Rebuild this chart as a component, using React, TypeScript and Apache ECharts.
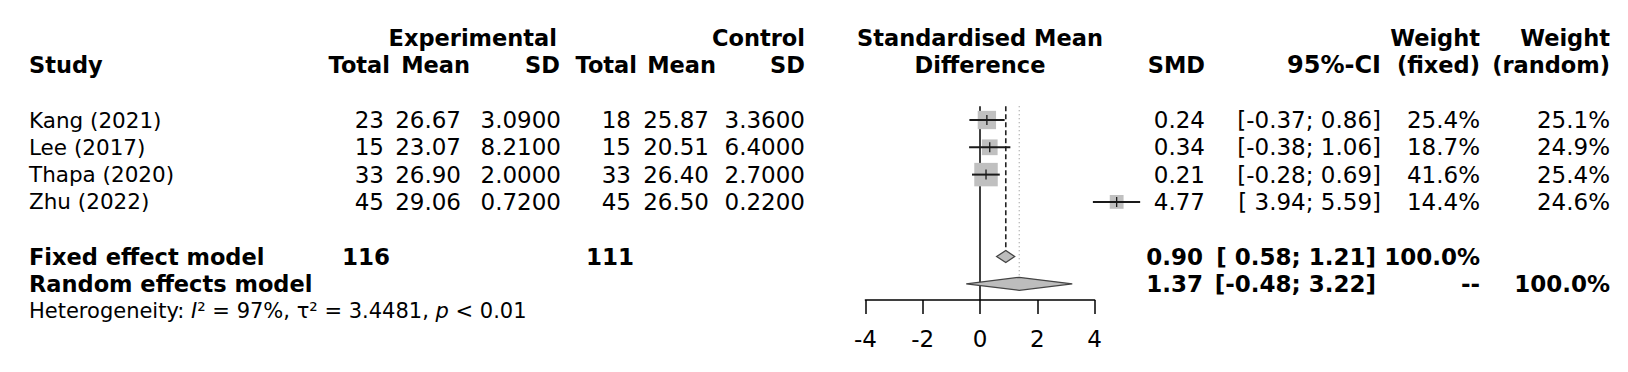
import React, { useEffect, useRef } from "react";
import * as echarts from "echarts";

// ---------- data ----------
const studies = ["Kang (2021)", "Lee (2017)", "Thapa (2020)", "Zhu (2022)"];
const expTotal = [23, 15, 33, 45];
const expMean = ["26.67", "23.07", "26.90", "29.06"];
const expSD = ["3.0900", "8.2100", "2.0000", "0.7200"];
const ctrlTotal = [18, 15, 33, 45];
const ctrlMean = ["25.87", "20.51", "26.40", "26.50"];
const ctrlSD = ["3.3600", "6.4000", "2.7000", "0.2200"];
const smd = [0.24, 0.34, 0.21, 4.77];
const ciLow = [-0.37, -0.38, -0.28, 3.94];
const ciHigh = [0.86, 1.06, 0.69, 5.59];
const weightFixed = [25.4, 18.7, 41.6, 14.4];
const weightRandom = [25.1, 24.9, 25.4, 24.6];

const modelNames = ["Fixed effect model", "Random effects model"];
const modelSMD = [0.9, 1.37];
const modelLow = [0.58, -0.48];
const modelHigh = [1.21, 3.22];
const modelWeightFixed = ["100.0%", "--"];
const modelWeightRandom = ["", "100.0%"];
const totalExp = 116;
const totalCtrl = 111;

const hetI2 = "97%";
const hetTau2 = "3.4481";
const hetP = "< 0.01";

const xMin = -4;
const xMax = 4;
const xInterval = 2;

// ---------- layout constants ----------
const W = 1628;
const H = 372;
const FONT = "DejaVu Sans";
const FS_NAME = 21.5;
const FS_NUM = 23;
const FS_BOLD = 22.5;
const FS_BOLD_NUM = 23;
const FS_HET = 21;
const zeroPx = 980;
const unitPx = 28.65;
const rowTop = 120; // pixel y of row 0
const rowStep = 27.3;
const gridTop = 100;
const gridH = 200;
const yMinV = -(rowTop - gridTop) / rowStep;
const yMaxV = yMinV + gridH / rowStep;
const squareScale = 3.64;

const fmt2 = (v: number) => v.toFixed(2);
const fmtCI = (lo: number, hi: number) =>
  "[" + (lo < 0 ? "" : " ") + lo.toFixed(2) + "; " + hi.toFixed(2) + "]";

type TItem = {
  row: number;
  x: number;
  text: string;
  align: "left" | "right" | "center";
  bold?: boolean;
  size: number;
  rich?: any;
};

function buildTextItems(): TItem[] {
  const items: TItem[] = [];
  const hb = (row: number, x: number, text: string, align: TItem["align"], size = FS_BOLD) =>
    items.push({ row, x, text, align, bold: true, size });
  // header row 1
  hb(-3, 557, "Experimental", "right");
  hb(-3, 805, "Control", "right");
  hb(-3, zeroPx, "Standardised Mean", "center");
  hb(-3, 1480, "Weight", "right");
  hb(-3, 1610, "Weight", "right");
  // header row 2
  hb(-2, 29, "Study", "left");
  hb(-2, 390, "Total", "right");
  hb(-2, 470, "Mean", "right");
  hb(-2, 560, "SD", "right");
  hb(-2, 637, "Total", "right");
  hb(-2, 716, "Mean", "right");
  hb(-2, 805, "SD", "right");
  hb(-2, zeroPx, "Difference", "center");
  hb(-2, 1205, "SMD", "right");
  hb(-2, 1381, "95%-CI", "right", 24);
  hb(-2, 1480, "(fixed)", "right");
  hb(-2, 1610, "(random)", "right");
  // studies
  studies.forEach((s, i) => {
    const r = (x: number, text: string) => items.push({ row: i, x, text, align: "right", size: FS_NUM });
    items.push({ row: i, x: 29, text: s, align: "left", size: FS_NAME });
    r(384, String(expTotal[i]));
    r(461, expMean[i]);
    r(561, expSD[i]);
    r(631, String(ctrlTotal[i]));
    r(709, ctrlMean[i]);
    r(805, ctrlSD[i]);
    r(1205, fmt2(smd[i]));
    r(1381, fmtCI(ciLow[i], ciHigh[i]));
    r(1480, weightFixed[i].toFixed(1) + "%");
    r(1610, weightRandom[i].toFixed(1) + "%");
  });
  // models
  modelNames.forEach((m, k) => {
    const row = 5 + k;
    hb(row, 29, m, "left");
    hb(row, 1203, fmt2(modelSMD[k]), "right", FS_BOLD_NUM);
    hb(row, 1376, fmtCI(modelLow[k], modelHigh[k]), "right", FS_BOLD_NUM);
    if (modelWeightFixed[k]) hb(row, 1480, modelWeightFixed[k], "right", FS_BOLD_NUM);
    if (modelWeightRandom[k]) hb(row, 1610, modelWeightRandom[k], "right", FS_BOLD_NUM);
  });
  hb(5, 390, String(totalExp), "right", FS_BOLD_NUM);
  hb(5, 634, String(totalCtrl), "right", FS_BOLD_NUM);
  // heterogeneity
  items.push({
    row: 7,
    x: 29,
    align: "left",
    size: FS_HET,
    text:
      "{a|Heterogeneity: }{i|I}{a|\u00b2 = " +
      hetI2 +
      ", \u03c4\u00b2 = " +
      hetTau2 +
      ", }{i|p}{a| " +
      hetP +
      "}",
    rich: {
      a: { fontSize: FS_HET, fontFamily: FONT, fill: "#000" },
      i: { fontSize: FS_HET, fontFamily: FONT, fontStyle: "italic", fill: "#000" },
    },
  });
  return items;
}

export default function App() {
  const ref = useRef<HTMLDivElement>(null);

  useEffect(() => {
    document.body.style.margin = "0";
    if (!ref.current) return;
    const chart = echarts.init(ref.current, undefined, { renderer: "svg" });
    const textItems = buildTextItems();

    const gridLeft = zeroPx + xMin * unitPx;
    const gridW = (xMax - xMin) * unitPx;

    const option: any = {
      animation: false,
      backgroundColor: "#fff",
      grid: { left: gridLeft, width: gridW, top: gridTop, height: gridH, containLabel: false },
      xAxis: {
        type: "value",
        min: xMin,
        max: xMax,
        interval: xInterval,
        position: "bottom",
        axisLine: { show: true, onZero: false, lineStyle: { color: "#000", width: 1.5 } },
        axisTick: { show: true, length: 14, lineStyle: { color: "#000", width: 1.5 } },
        axisLabel: { fontSize: 23, color: "#000", fontFamily: FONT, margin: 27 },
        splitLine: { show: false },
      },
      yAxis: { type: "value", min: yMinV, max: yMaxV, inverse: true, show: false },
      series: [
        // reference lines
        {
          type: "custom",
          silent: true,
          clip: false,
          data: [
            [0, -0.5, 0],
            [modelSMD[0], -0.5, 5],
            [modelSMD[1], -0.5, 6],
          ],
          encode: { x: 0, y: 1 },
          renderItem: (params: any, api: any) => {
            const i = params.dataIndex;
            const x = api.value(0);
            const top = api.coord([x, api.value(1)]);
            let y2: number;
            let style: any;
            if (i === 0) {
              y2 = params.coordSys.y + params.coordSys.height;
              style = { stroke: "#000", lineWidth: 1.5 };
            } else if (i === 1) {
              y2 = api.coord([x, api.value(2)])[1] - 6;
              style = { stroke: "#222", lineWidth: 1.6, lineDash: [5, 3] };
            } else {
              y2 = api.coord([x, api.value(2)])[1] - 6.5;
              style = { stroke: "#9a9a9a", lineWidth: 1.2, lineDash: [1, 3] };
            }
            return { type: "line", shape: { x1: top[0], y1: top[1], x2: top[0], y2 }, style };
          },
        },
        // study squares and CIs
        {
          type: "custom",
          silent: true,
          clip: false,
          data: smd.map((v, i) => [v, i, ciLow[i], ciHigh[i], weightFixed[i]]),
          encode: { x: 0, y: 1 },
          renderItem: (params: any, api: any) => {
            const est = api.value(0);
            const row = api.value(1);
            const c = api.coord([est, row]);
            const l = api.coord([api.value(2), row]);
            const h = api.coord([api.value(3), row]);
            const s = squareScale * Math.sqrt(api.value(4));
            return {
              type: "group",
              children: [
                { type: "rect", shape: { x: c[0] - s / 2, y: c[1] - s / 2, width: s, height: s }, style: { fill: "#c0c0c0" } },
                { type: "line", shape: { x1: l[0], y1: c[1], x2: h[0], y2: c[1] }, style: { stroke: "#1a1a1a", lineWidth: 2 } },
                { type: "line", shape: { x1: c[0], y1: c[1] - 5, x2: c[0], y2: c[1] + 5 }, style: { stroke: "#1a1a1a", lineWidth: 1.3 } },
              ],
            };
          },
        },
        // diamonds
        {
          type: "custom",
          silent: true,
          clip: false,
          data: modelSMD.map((v, k) => [v, 5 + k, modelLow[k], modelHigh[k]]),
          encode: { x: 0, y: 1 },
          renderItem: (params: any, api: any) => {
            const row = api.value(1);
            const c = api.coord([api.value(0), row]);
            const l = api.coord([api.value(2), row]);
            const h = api.coord([api.value(3), row]);
            const hh = params.dataIndex === 0 ? 6 : 6.5;
            return {
              type: "polygon",
              shape: {
                points: [
                  [l[0], c[1]],
                  [c[0], c[1] - hh],
                  [h[0], c[1]],
                  [c[0], c[1] + hh],
                ],
              },
              style: { fill: "#bdbdbd", stroke: "#444", lineWidth: 1.3 },
            };
          },
        },
        // table texts
        {
          type: "custom",
          silent: true,
          clip: false,
          data: textItems.map((t) => [0, t.row]),
          encode: { x: 0, y: 1 },
          renderItem: (params: any, api: any) => {
            const t = textItems[params.dataIndex];
            const y = api.coord([0, t.row])[1];
            const style: any = {
              text: t.text,
              fill: "#000",
              fontFamily: FONT,
              fontSize: t.size,
              fontWeight: t.bold ? "bold" : "normal",
              align: t.align,
              verticalAlign: "middle",
              textAlign: t.align,
              textVerticalAlign: "middle",
            };
            if (t.rich) style.rich = t.rich;
            return { type: "text", x: t.x, y, style };
          },
        },
      ],
    };
    chart.setOption(option);
    return () => chart.dispose();
  }, []);

  return <div ref={ref} style={{ width: W, height: H, background: "#fff" }} />;
}
